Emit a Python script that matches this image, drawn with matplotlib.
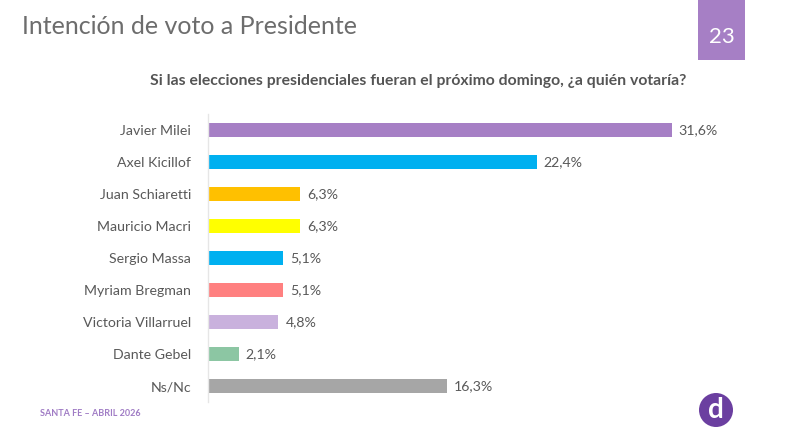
import matplotlib
matplotlib.use("Agg")
import matplotlib.pyplot as plt
from matplotlib.patches import Rectangle, Ellipse

categories = ["Javier Milei", "Axel Kicillof", "Juan Schiaretti", "Mauricio Macri",
              "Sergio Massa", "Myriam Bregman", "Victoria Villarruel", "Dante Gebel", "Ns/Nc"]
values = [31.6, 22.4, 6.3, 6.3, 5.1, 5.1, 4.8, 2.1, 16.3]
value_labels = ["31,6%", "22,4%", "6,3%", "6,3%", "5,1%", "5,1%", "4,8%", "2,1%", "16,3%"]
colors = ["#a67fc5", "#00b0f0", "#ffc000", "#ffff00", "#00b0f0",
          "#ff8080", "#c9b1dd", "#8cc6a3", "#a6a6a6"]

plt.rcParams['font.family'] = ['Lato', 'DejaVu Sans']

W, H = 798, 442
fig = plt.figure(figsize=(W / 100, H / 100), dpi=100)
fig.patch.set_facecolor("white")

def fx(px):
    return px / W

def fy(py):
    return 1 - py / H

left_px, right_px = 208, 760
top_px, bot_px = 114, 402
ax = fig.add_axes([fx(left_px), fy(bot_px), fx(right_px - left_px), (bot_px - top_px) / H])
ypos = list(range(len(categories)))
ax.barh(ypos, values, height=0.41, color=colors, edgecolor="none")
ax.set_ylim(len(categories) - 0.5, -0.5)
ax.set_xlim(0, (right_px - left_px) / 14.68)
ax.set_yticks(ypos)
ax.set_yticklabels(categories, fontsize=10.2, color="#595959")
ax.tick_params(axis="y", length=0, pad=12)
ax.set_xticks([])
for s in ["top", "right", "bottom"]:
    ax.spines[s].set_visible(False)
ax.spines["left"].set_color("#e6e6e6")
ax.spines["left"].set_linewidth(1)
for y, v, lab in zip(ypos, values, value_labels):
    ax.annotate(lab, (v, y), xytext=(5, 0), textcoords="offset points",
                va="center", ha="left", fontsize=10.2, color="#595959")

# Title
fig.text(fx(22), fy(26), "Intención de voto a Presidente", fontsize=18,
         color="#6d6d6d", va="center", ha="left")
# Subtitle
fig.text(fx(418), fy(81),
         "Si las elecciones presidenciales fueran el próximo domingo, ¿a quién votaría?",
         fontsize=11.3, fontweight="bold", color="#555555", va="center", ha="center")

# Page number box
fig.patches.append(Rectangle((fx(698), fy(60)), fx(47), 60 / H, transform=fig.transFigure,
                             facecolor="#a67fc5", edgecolor="none"))
fig.text(fx(721.5), fy(37), "23", fontsize=16, color="white", va="center", ha="center")

# Footer
fig.text(fx(40), fy(413), "SANTA FE – ABRIL 2026", fontsize=6.5, fontweight="bold",
         color="#a07cc5", va="center", ha="left")

# Logo
fig.patches.append(Ellipse((fx(716), fy(410)), 34 / W, 34 / H, transform=fig.transFigure,
                           facecolor="#6b3fa0", edgecolor="none"))
fig.text(fx(716), fy(410), "d", fontsize=20, fontweight="bold", color="white",
         va="center", ha="center")

fig.savefig("out.png", dpi=100)
